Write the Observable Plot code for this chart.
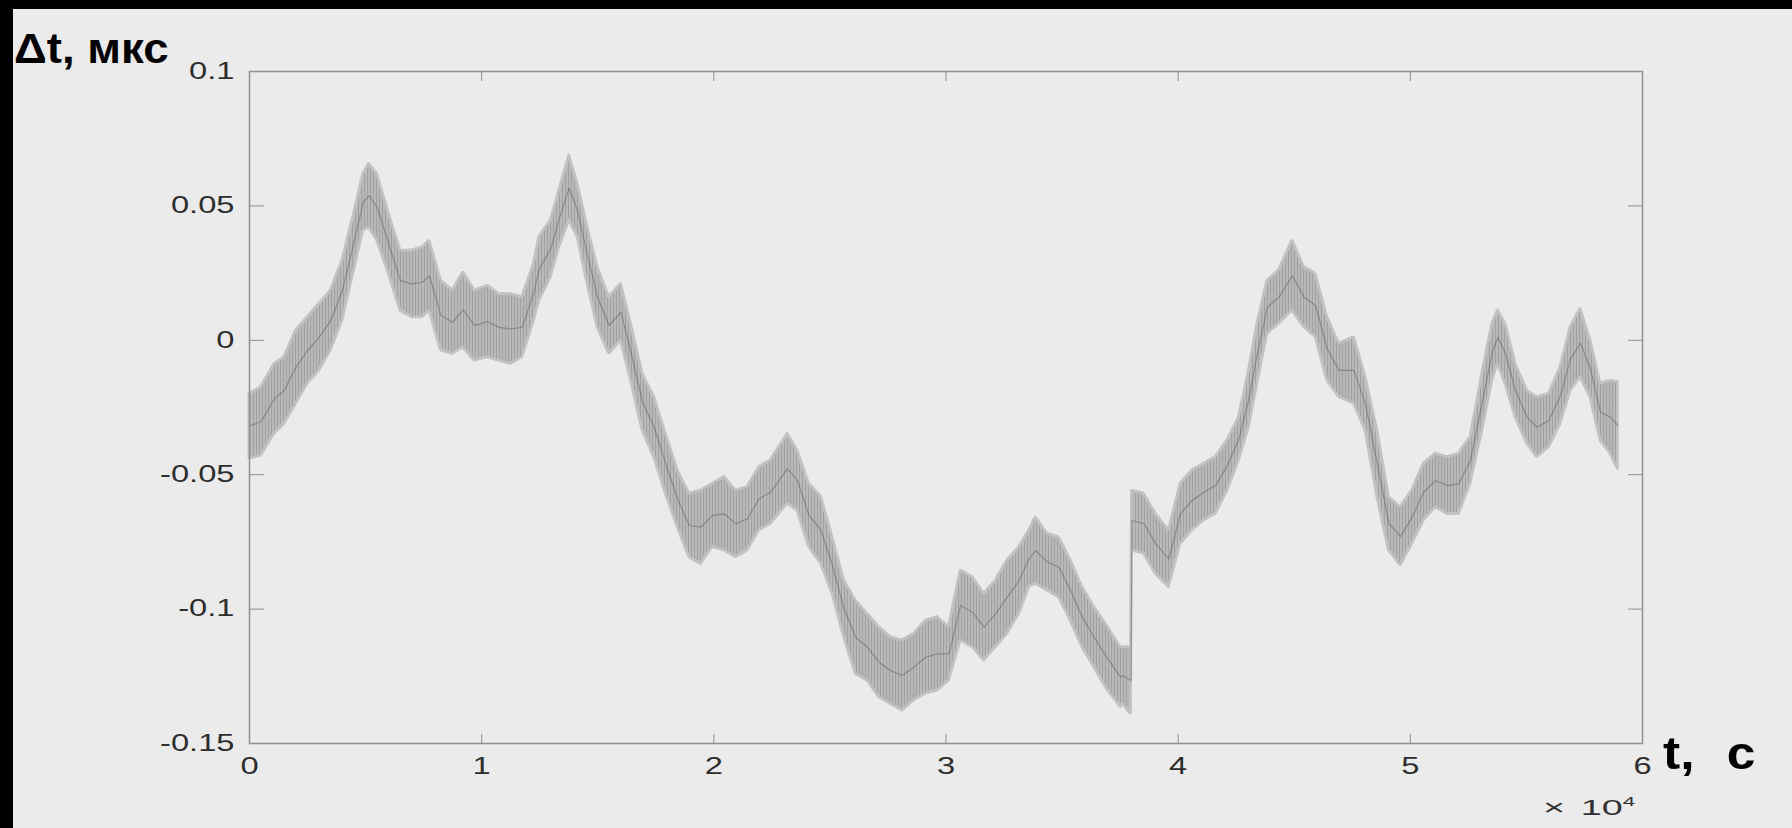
<!DOCTYPE html>
<html>
<head>
<meta charset="utf-8">
<script src="https://cdn.jsdelivr.net/npm/d3@7"></script>
<script src="https://cdn.jsdelivr.net/npm/@observablehq/plot@0.6"></script>
<style>
html, body { margin: 0; padding: 0; background: #000; width: 1792px; height: 828px; overflow: hidden; }
#panel { position: absolute; left: 13px; top: 9px; width: 1779px; height: 819px; background: #ebebeb;
         font-family: "Liberation Sans", Arial, Helvetica, sans-serif; }
#chart { position: absolute; left: 0; top: 0; }
.lbl { position: absolute; font-weight: bold; color: #000; white-space: nowrap; transform-origin: 0 0; }
#ylab { left: 1px; top: 18px; font-size: 43px; line-height: 43px; transform: scaleX(1.06); }
#xlab { left: 1650px; top: 721px; font-size: 46px; line-height: 46px; word-spacing: 16px; transform: scaleX(1.12); }
#xexp { position: absolute; left: 1530px; top: 788px; font-size: 22px; line-height: 22px; color: #333; white-space: nowrap;
        transform-origin: 0 0; transform: scaleX(1.72); word-spacing: 3px; }
#xexp span { position: relative; top: -9px; font-size: 13px; }
</style>
</head>
<body>
<div id="panel">
  <div id="chart"></div>
  <div class="lbl" id="ylab">Δt, мкс</div>
  <div class="lbl" id="xlab">t, с</div>
  <div id="xexp">× 10<span>4</span></div>
</div>
<script>
// time, seconds
const tSec = [0, 500, 1070, 1500, 2000, 2500, 3000, 3500, 4000, 4500, 4900, 5150, 5500, 6000, 6500, 7000, 7450, 7750,
  8250, 8750, 9200, 9700, 10250, 10750, 11250, 11750, 12250, 12480, 12980, 13340, 13770, 14130, 14560, 14990, 15490,
  16000, 16430, 16930, 17430, 17930, 18440, 18940, 19440, 19940, 20450, 20950, 21450, 21950, 22450, 23170, 23600,
  24100, 24610, 25110, 25610, 26110, 26620, 27120, 27620, 28120, 28620, 29130, 29630, 30130, 30630, 31140, 31640,
  32140, 32640, 33150, 33580, 33860, 34370, 34870, 35370, 35870, 36380, 36880, 37520, 37600, 37970, 38010, 38530,
  39030, 39600, 40100, 40600, 41110, 41610, 42120, 42620, 43050, 43410, 43840, 44340, 44920, 45420, 45920, 46420,
  46930, 47570, 48070, 48580, 49080, 49580, 50080, 50580, 51090, 51590, 52090, 52590, 53100, 53530, 53770, 54100,
  54530, 55030, 55460, 55970, 56470, 56900, 57330, 57760, 58190, 58620, 58940];
// upper edge of the band, microseconds
const dtUpper = [-0.020, -0.0175, -0.0088, -0.0063, 0.0036, 0.0086, 0.0135, 0.0185, 0.0296, 0.0470, 0.0619, 0.0656,
  0.0619, 0.0470, 0.0334, 0.0334, 0.0346, 0.0371, 0.0222, 0.0185, 0.0253, 0.0185, 0.0203, 0.0172, 0.0172, 0.0160,
  0.0284, 0.0384, 0.0446, 0.0557, 0.0687, 0.0582, 0.0421, 0.0272, 0.0160, 0.0210, 0.0061, -0.0125, -0.0212, -0.0348,
  -0.0484, -0.0571, -0.0559, -0.0534, -0.0509, -0.0559, -0.0546, -0.0472, -0.0447, -0.0348, -0.0410, -0.0534,
  -0.0580, -0.0733, -0.0894, -0.0968, -0.1018, -0.1067, -0.1105, -0.1117, -0.1092, -0.1043, -0.1030, -0.1067,
  -0.0856, -0.0881, -0.0943, -0.0894, -0.0819, -0.0770, -0.0708, -0.0658, -0.0720, -0.0733, -0.0819, -0.0918,
  -0.0993, -0.1055, -0.1142, -0.1142, -0.1142, -0.0559, -0.0571, -0.0646, -0.0708, -0.0534, -0.0484, -0.0460,
  -0.0435, -0.0373, -0.0286, -0.0112, 0.0061, 0.0222, 0.0260, 0.0371, 0.0272, 0.0247, 0.0086, -0.0013, 0.0012,
  -0.0137, -0.0336, -0.0583, -0.0621, -0.0559, -0.0459, -0.0422, -0.0435, -0.0422, -0.0360, -0.0125, 0.0061,
  0.0111, 0.0061, -0.0088, -0.0187, -0.0212, -0.0199, -0.0100, 0.0049, 0.0117, -0.0001, -0.0162, -0.0150, -0.0156];
// lower edge of the band, microseconds
const dtLower = [-0.044, -0.0429, -0.0348, -0.0311, -0.0237, -0.0162, -0.0113, -0.0038, 0.0073, 0.0259, 0.0408, 0.0420,
  0.0371, 0.0247, 0.0110, 0.0086, 0.0086, 0.0110, -0.0038, -0.0051, -0.0026, -0.0076, -0.0063, -0.0076, -0.0088,
  -0.0063, 0.0073, 0.0148, 0.0235, 0.0346, 0.0446, 0.0384, 0.0210, 0.0049, -0.0050, -0.0001, -0.0150, -0.0336,
  -0.0435, -0.0571, -0.0695, -0.0807, -0.0832, -0.0769, -0.0782, -0.0807, -0.0782, -0.0707, -0.0683, -0.0608,
  -0.0633, -0.0769, -0.0830, -0.0943, -0.1105, -0.1241, -0.1266, -0.1328, -0.1353, -0.1377, -0.1340, -0.1315,
  -0.1303, -0.1266, -0.1117, -0.1142, -0.1191, -0.1142, -0.1092, -0.1018, -0.0918, -0.0906, -0.0931, -0.0956,
  -0.1043, -0.1142, -0.1216, -0.1291, -0.1365, -0.1352, -0.1390, -0.0782, -0.0794, -0.0869, -0.0918, -0.0757,
  -0.0708, -0.0670, -0.0646, -0.0559, -0.0447, -0.0323, -0.0162, 0.0024, 0.0061, 0.0111, 0.0049, 0.0012, -0.0150,
  -0.0211, -0.0236, -0.0336, -0.0583, -0.0782, -0.0838, -0.0757, -0.0670, -0.0621, -0.0646, -0.0646, -0.0534,
  -0.0336, -0.0150, -0.0088, -0.0162, -0.0286, -0.0385, -0.0435, -0.0398, -0.0311, -0.0187, -0.0137, -0.0212,
  -0.0373, -0.0422, -0.0478];

const xTicks = [0, 10000, 20000, 30000, 40000, 50000, 60000];
const xTickLabels = ["0", "1", "2", "3", "4", "5", "6"];
const yTicks = [-0.15, -0.1, -0.05, 0, 0.05, 0.1];
const yTickLabels = ["-0.15", "-0.1", "-0.05", "0", "0.05", "0.1"];

const rows = tSec.map((t, i) => ({t, hi: dtUpper[i], lo: dtLower[i]}));

const frameColor = "#909090";
const chart = Plot.plot({
  width: 1779,
  height: 819,
  marginLeft: 236,
  marginTop: 62,
  marginRight: 150,
  marginBottom: 85,
  style: {background: "transparent", fontFamily: "'Liberation Sans', Arial, Helvetica, sans-serif", fontSize: "23px", color: "#2e2e2e"},
  x: {domain: [0, 60000], label: null},
  y: {domain: [-0.15, 0.1], label: null},
  marks: [
    Plot.areaY(rows, {x: "t", y1: "lo", y2: "hi", fill: "url(#bandHatch)", stroke: "#c2c2c2", strokeWidth: 3, strokeDasharray: "1,2"}),
    Plot.lineY(rows, {x: "t", y: d => (d.hi + d.lo) / 2, stroke: "#3a3a3a", strokeWidth: 1.2, strokeOpacity: 0.35}),
    Plot.frame({stroke: frameColor, strokeWidth: 1.5}),
    Plot.axisY(yTicks, {anchor: "left", tickSize: -15, tickFormat: () => "", stroke: frameColor, label: null}),
    Plot.axisY(yTicks, {anchor: "right", tickSize: -15, tickFormat: () => "", stroke: frameColor, label: null}),
    Plot.axisX(xTicks, {anchor: "bottom", tickSize: -9, tickFormat: () => "", stroke: frameColor, label: null}),
    Plot.axisX(xTicks, {anchor: "top", tickSize: -9, tickFormat: () => "", stroke: frameColor, label: null}),
    Plot.axisY(yTicks, {anchor: "left", tickSize: 0, tickPadding: 15, label: null, fill: "#2e2e2e",
      tickFormat: d => yTickLabels[yTicks.indexOf(d)]}),
    Plot.axisX(xTicks, {anchor: "bottom", tickSize: 0, tickPadding: 14, label: null, fill: "#2e2e2e",
      tickFormat: d => xTickLabels[xTicks.indexOf(d)]})
  ]
});

// hatch texture for the oscillation band (vertical streaks as in the original)
const ns = "http://www.w3.org/2000/svg";
const defs = document.createElementNS(ns, "defs");
defs.innerHTML = '<pattern id="bandHatch" width="3" height="6" patternUnits="userSpaceOnUse">' +
  '<rect width="3" height="6" fill="#b8b8b8"/>' +
  '<line x1="0.5" y1="0" x2="0.5" y2="6" stroke="#a2a2a2" stroke-width="1"/>' +
  '</pattern>';
chart.insertBefore(defs, chart.firstChild);
document.getElementById("chart").appendChild(chart);

// the original figure is horizontally stretched: widen tick label glyphs
chart.querySelectorAll('g[aria-label="y-axis tick label"] text, g[aria-label="x-axis tick label"] text').forEach(el => {
  const tr = el.getAttribute("transform") || "";
  el.setAttribute("transform", tr + " scale(1.42,1)");
});
</script>
</body>
</html>
